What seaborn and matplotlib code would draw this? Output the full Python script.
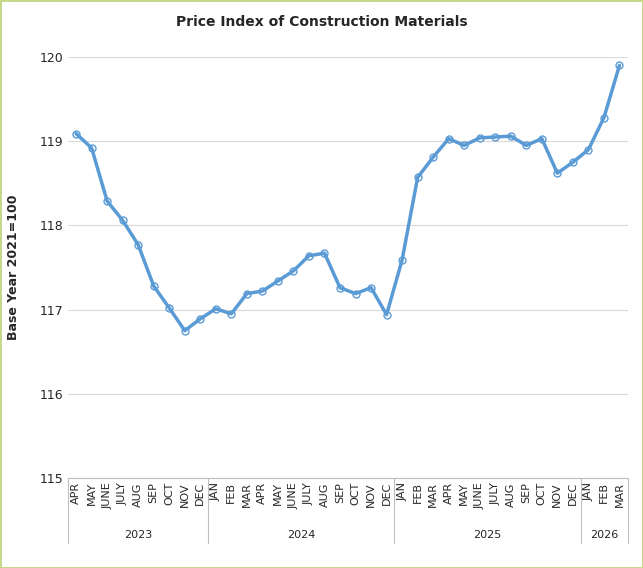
import seaborn as sns
import matplotlib.pyplot as plt
import pandas as pd

months = ["APR", "MAY", "JUNE", "JULY", "AUG", "SEP", "OCT", "NOV", "DEC",
          "JAN", "FEB", "MAR", "APR", "MAY", "JUNE", "JULY", "AUG", "SEP", "OCT", "NOV", "DEC",
          "JAN", "FEB", "MAR", "APR", "MAY", "JUNE", "JULY", "AUG", "SEP", "OCT", "NOV", "DEC",
          "JAN", "FEB", "MAR"]
years = ["2023", "2024", "2025", "2026"]
year_counts = [9, 12, 12, 3]
values = [119.09, 118.92, 118.29, 118.06, 117.77, 117.28, 117.02, 116.75, 116.89,
          117.01, 116.95, 117.19, 117.22, 117.34, 117.46, 117.64, 117.67, 117.26, 117.19, 117.26, 116.94,
          117.59, 118.57, 118.81, 119.03, 118.95, 119.04, 119.05, 119.06, 118.95, 119.03, 118.62, 118.75,
          118.90, 119.28, 119.90]

df = pd.DataFrame({"i": range(len(values)), "v": values})

sns.set_style("white")
plt.rcParams['font.family'] = ['Verdana', 'DejaVu Sans']

fig = plt.figure(figsize=(6.43, 5.68), dpi=100)
fig.patch.set_edgecolor("#c5d88a")
fig.patch.set_linewidth(2)
ax = fig.add_axes([68/643, 1-478/568, 560/643, 421/568])

sns.lineplot(data=df, x="i", y="v", ax=ax, color="#5b9bd5", linewidth=2.5,
             marker="o", markersize=5, markerfacecolor="none",
             markeredgecolor="#5b9bd5", markeredgewidth=1)

ax.set_ylim(115, 120)
ax.set_xlim(-0.52, 35.55)
ax.set_yticks(range(115, 121))
ax.tick_params(axis="y", labelsize=9, length=0)
ax.yaxis.grid(True, color="#d9d9d9", linewidth=0.8)
ax.set_xticks(range(len(months)))
ax.set_xticklabels(months, rotation=90, fontsize=8)
ax.tick_params(axis="x", length=0, pad=3)
ax.set_xlabel("")
ax.set_ylabel("Base Year 2021=100", fontsize=9, fontweight="bold", labelpad=14)
for s in ["top", "right", "left"]:
    ax.spines[s].set_visible(False)
ax.spines["bottom"].set_color("#bfbfbf")

trans = ax.get_xaxis_transform()
start = -0.52
pos = 0
bounds = [start]
for y, c in zip(years, year_counts):
    end = pos + c - 0.5 if pos + c < len(values) else 35.55
    ax.text((pos - 0.5 + end) / 2, -0.135, y,
            transform=trans, ha="center", va="center", fontsize=8)
    bounds.append(end)
    start = end
    pos += c
for b in bounds:
    ax.plot([b, b], [0, -0.155], transform=trans, color="#bfbfbf", linewidth=0.8, clip_on=False)

fig.text(0.5, 1-22/568, "Price Index of Construction Materials", ha="center", va="center",
         fontsize=10, fontweight="bold")

fig.savefig("out.png", dpi=100, edgecolor=fig.get_edgecolor())
